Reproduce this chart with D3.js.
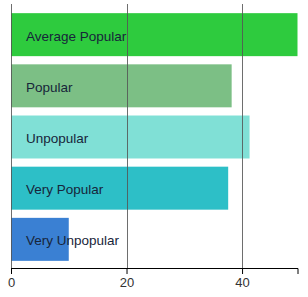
<!DOCTYPE html>
<html>
<head>
<meta charset="utf-8">
<script src="https://cdn.jsdelivr.net/npm/d3@7"></script>
<style>
	body { margin: 0; background: #fff; }
	svg { display: block; font-family: "Liberation Sans", Arial, sans-serif; }
</style>
</head>
<body>
<div id="graph"></div>
<script>
// chart data
var categories = ["Average Popular", "Popular", "Unpopular", "Very Popular", "Very Unpopular"];
var values = [49.6, 38.2, 41.3, 37.6, 10.0];
var barColors = ["#2ecb3e", "#7cbf85", "#80e0d6", "#2dbfc7", "#3a80d3"];
var tickLabels = [0, 20, 40];

var margin = { top: 6, right: 10, bottom: 29, left: 11 },
	width = 308 - margin.left - margin.right,
	height = 297 - margin.top - margin.bottom;

var svg = d3.select("#graph")
	.append("svg")
	.attr("width", width + margin.left + margin.right)
	.attr("height", height + margin.top + margin.bottom)
	.append("g")
	.attr("transform", "translate(" + margin.left + "," + margin.top + ")");

var data = categories.map(function (c, i) { return { name: c, value: values[i], color: barColors[i] }; });

var x = d3.scaleLinear()
	.domain([0, d3.max(values)])
	.range([0, width - 0.5]);

var y = d3.scaleBand()
	.domain(categories)
	.range([0, height])
	.paddingInner(0.16)
	.paddingOuter(0.14);

// bars
svg.selectAll(".bar")
	.data(data)
	.enter().append("rect")
	.attr("class", "bar")
	.attr("x", x(0))
	.attr("y", function (d) { return y(d.name); })
	.attr("width", function (d) { return x(d.value); })
	.attr("height", y.bandwidth())
	.attr("fill", function (d) { return d.color; });

// vertical grid lines (drawn over bars)
svg.append("g")
	.selectAll("line")
	.data(tickLabels)
	.enter().append("line")
	.attr("x1", function (d) { return Math.round(x(d)) + 0.5; })
	.attr("x2", function (d) { return Math.round(x(d)) + 0.5; })
	.attr("y1", -2)
	.attr("y2", height)
	.attr("stroke", "#555")
	.attr("stroke-opacity", 0.85)
	.attr("stroke-width", 1);

// labels inside bars
svg.selectAll(".label")
	.data(data)
	.enter().append("text")
	.attr("class", "label")
	.attr("x", x(0) + 15)
	.attr("y", function (d) { return y(d.name) + y.bandwidth() / 2; })
	.attr("dy", "0.45em")
	.attr("font-size", "13.5px")
	.attr("fill", "#17253a")
	.text(function (d) { return d.name; });

// x axis
var axis = svg.append("g")
	.attr("transform", "translate(0," + height + ")")
	.call(d3.axisBottom(x).tickValues(tickLabels).tickSizeOuter(6));
axis.select(".domain").attr("stroke", "#000");
axis.selectAll(".tick line").attr("stroke", "#000");
axis.selectAll(".tick text")
	.attr("font-size", "13px")
	.attr("font-family", "Liberation Sans, Arial, sans-serif")
	.attr("fill", "#333")
	.attr("y", 10);
</script>
</body>
</html>
